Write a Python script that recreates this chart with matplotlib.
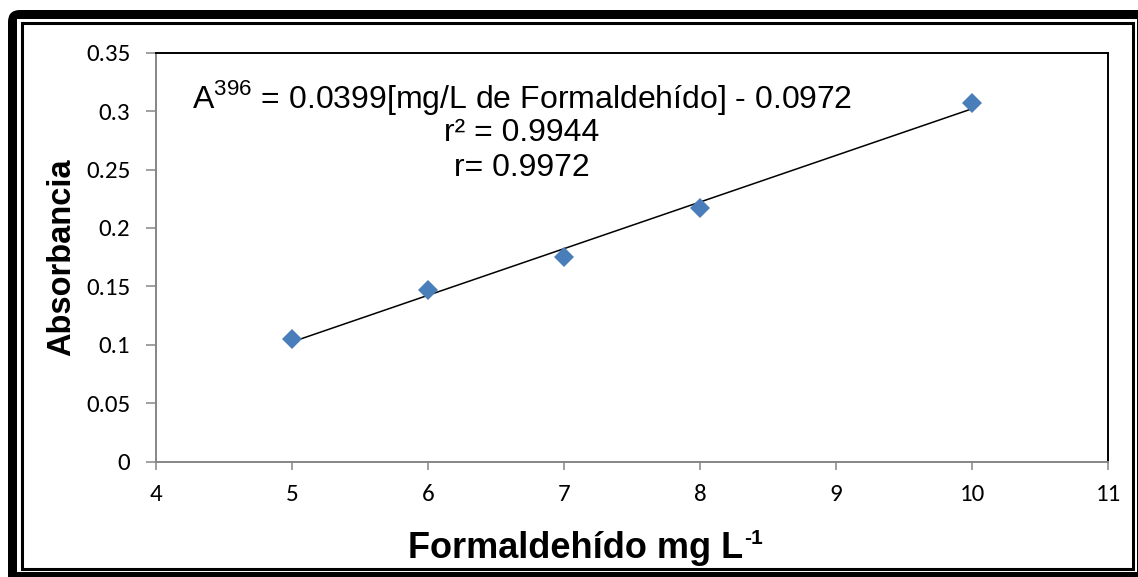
import matplotlib
matplotlib.use("Agg")
import matplotlib.pyplot as plt
import numpy as np
from matplotlib import font_manager
from matplotlib.patches import FancyBboxPatch, Rectangle
from matplotlib.transforms import IdentityTransform


def pick_font(names):
    for name in names:
        try:
            font_manager.findfont(name, fallback_to_default=False)
            return name
        except Exception:
            continue
    return "DejaVu Sans"


NARROW = pick_font(["Liberation Sans Narrow", "Liberation Sans"])
ARIAL = pick_font(["Liberation Sans", "Arial"])
TICKF = pick_font(["Carlito", "Lato", "Open Sans"])
TICK_SIZE = 18 if TICKF == "Carlito" else 16

plt.rcParams["font.family"] = TICKF
plt.rcParams["font.size"] = TICK_SIZE
plt.rcParams["mathtext.fontset"] = "custom"
plt.rcParams["mathtext.rm"] = NARROW

# calibration data
conc = [5, 6, 7, 8, 10]
absorb = [0.105, 0.147, 0.175, 0.217, 0.307]
eq_lines = ["A$^{396}$ = 0.0399[mg/L de Formaldehído] - 0.0972",
            "r² = 0.9944",
            "r= 0.9972"]
xticks = [4, 5, 6, 7, 8, 9, 10, 11]
yticks = [0, 0.05, 0.1, 0.15, 0.2, 0.25, 0.3, 0.35]
ytick_labels = ["0", "0.05", "0.1", "0.15", "0.2", "0.25", "0.3", "0.35"]

BLUE = "#4a7ebb"
GRAY = "#868686"

W, H = 1138, 577
fig = plt.figure(figsize=(W / 100, H / 100), dpi=100)

# frame: black rounded backing, white page, thin inner rule
backing = FancyBboxPatch((8, H - 600), 1160, 600 - 10,
                         boxstyle="round,pad=0,rounding_size=12",
                         transform=IdentityTransform(), facecolor="black",
                         edgecolor="none", zorder=-3)
page = Rectangle((17, H - 572.3), 1137 - 17, 572.3 - 19,
                 transform=IdentityTransform(), facecolor="white",
                 edgecolor="none", zorder=-2)
inner = Rectangle((21.5, H - 569.2), 1132.5 - 21.5, 569.2 - 22.5,
                  transform=IdentityTransform(), fill=False,
                  edgecolor="black", lw=2.2, zorder=-1)
fig.patches.extend([backing, page, inner])

ax = fig.add_axes([156 / W, 1 - 461.5 / H, (1108 - 156) / W, (461.5 - 52.7) / H])

# linear fit
slope, icpt = np.polyfit(conc, absorb, 1)
xf = np.array([min(conc), max(conc)])
ax.plot(xf, slope * xf + icpt, color="black", lw=1.1, zorder=2)
ax.plot(conc, absorb, ls="none", marker="D", ms=10, color=BLUE,
        markeredgewidth=0, zorder=3)

ax.set_xlim(4, 11)
ax.set_ylim(0, 0.35)
ax.set_xticks(xticks)
ax.set_yticks(yticks)
ax.set_yticklabels(ytick_labels)
ax.tick_params(axis="y", direction="out", length=7, width=1.1, color=GRAY,
               pad=11.5, labelsize=TICK_SIZE)
ax.tick_params(axis="x", direction="out", length=5.5, width=1.1, color=GRAY,
               pad=11, labelsize=TICK_SIZE)

ax.spines["left"].set_color(GRAY)
ax.spines["bottom"].set_color(GRAY)
ax.spines["left"].set_linewidth(1.4)
ax.spines["bottom"].set_linewidth(1.4)
ax.spines["top"].set_color("black")
ax.spines["right"].set_color("black")
ax.spines["top"].set_linewidth(1.4)
ax.spines["right"].set_linewidth(1.4)

for txt, yy in zip(eq_lines, [0.8916, 0.8036, 0.718]):
    ax.text(0.3845, yy, txt, transform=ax.transAxes, ha="center",
            va="center", fontsize=23, family=NARROW)

fig.text(62 / W, 1 - 257 / H, "Absorbancia", rotation=90, ha="center",
         va="center", fontsize=23.5, fontweight="bold", family=ARIAL)
xlab = fig.text(576 / W, 1 - 548 / H, "Formaldehído mg L",
                ha="center", va="center", fontsize=26, fontweight="bold",
                family=ARIAL)
ax.annotate("-1", xy=(1, 1), xycoords=xlab, xytext=(0.3, 1),
            textcoords="offset points", ha="left", va="top",
            fontsize=15, fontweight="bold", family=ARIAL)

fig.savefig("out.png", dpi=100)
